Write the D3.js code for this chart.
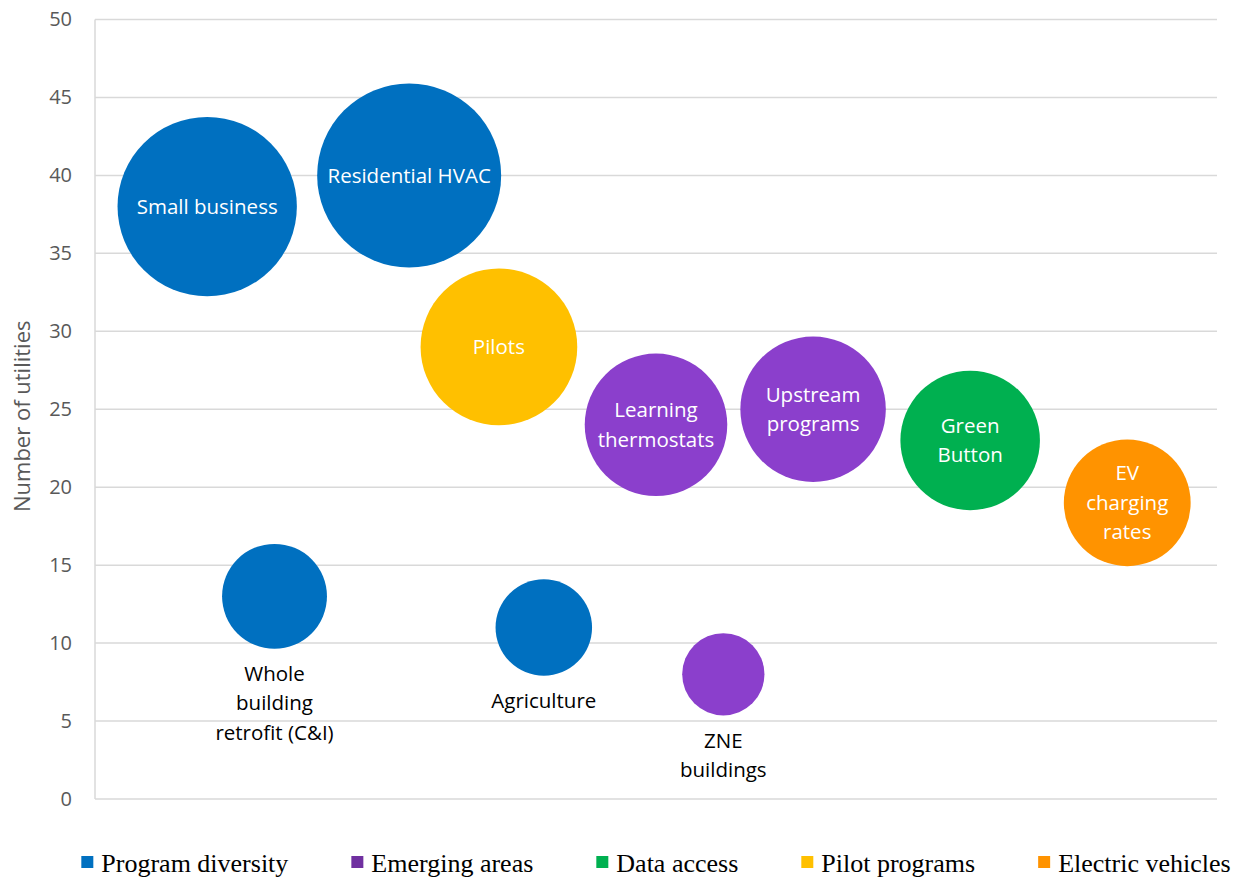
<!DOCTYPE html>
<html>
<head>
<meta charset="utf-8">
<script src="https://cdn.jsdelivr.net/npm/d3@7"></script>
<style>
  html, body { margin: 0; padding: 0; background: #fff; }
  svg { display: block; }
</style>
</head>
<body>
<svg id="chart" width="1241" height="878"></svg>
<script>
// Program types offered by utilities
const programs = ["Small business", "Whole\nbuilding\nretrofit (C&I)", "Residential HVAC", "Pilots", "Agriculture",
                  "Learning\nthermostats", "ZNE\nbuildings", "Upstream\nprograms", "Green\nButton", "EV\ncharging\nrates"];
const programSeries = ["Program diversity", "Program diversity", "Program diversity", "Pilot programs", "Program diversity",
                       "Emerging areas", "Emerging areas", "Emerging areas", "Data access", "Electric vehicles"];
const xValues = [1.0, 1.6, 2.8, 3.6, 4.0, 5.0, 5.6, 6.4, 7.8, 9.2];
const utilityCounts = [38, 13, 40, 29, 11, 24, 8, 25, 23, 19];
const labelPlacement = ["inside", "below", "inside", "inside", "below", "inside", "below", "inside", "inside", "inside"];

const seriesNames = ["Program diversity", "Emerging areas", "Data access", "Pilot programs", "Electric vehicles"];
const bubbleColors = ["#0070C0", "#8B3FCC", "#00B050", "#FFC000", "#FF9300"];
const legendColors = ["#0070C0", "#7030A0", "#00B050", "#FFC000", "#FF9300"];
const yTicks = [0, 5, 10, 15, 20, 25, 30, 35, 40, 45, 50];

const svg = d3.select("#chart");
const plot = { left: 95, right: 1217, top: 19.5, bottom: 799 };

const x = d3.scaleLinear().domain([0, 10]).range([plot.left, plot.right]);
const y = d3.scaleLinear().domain([0, 50]).range([plot.bottom, plot.top]);
const r = d3.scaleSqrt().domain([0, 40]).range([0, 92]);
const bubbleColor = d3.scaleOrdinal().domain(seriesNames).range(bubbleColors);

const textFont = "'Open Sans', Lato, sans-serif";

// Horizontal gridlines
svg.append("g")
  .selectAll("line")
  .data(yTicks.filter(t => t > 0))
  .join("line")
  .attr("x1", plot.left).attr("x2", plot.right)
  .attr("y1", d => y(d)).attr("y2", d => y(d))
  .attr("stroke", "#d9d9d9").attr("stroke-width", 1.5);

// Y axis with tick labels, no tick marks
const yAxis = svg.append("g")
  .attr("transform", `translate(${plot.left},0)`)
  .call(d3.axisLeft(y).tickValues(yTicks).tickSize(0).tickPadding(23));
yAxis.select(".domain").remove();
yAxis.selectAll("text")
  .attr("fill", "#595959")
  .style("font-family", textFont)
  .style("font-size", "20px");

// Axis lines (left and bottom)
svg.append("line")
  .attr("x1", plot.left).attr("x2", plot.left)
  .attr("y1", plot.top).attr("y2", plot.bottom)
  .attr("stroke", "#d9d9d9").attr("stroke-width", 1.5);
svg.append("line")
  .attr("x1", plot.left).attr("x2", plot.right)
  .attr("y1", plot.bottom).attr("y2", plot.bottom)
  .attr("stroke", "#d9d9d9").attr("stroke-width", 1.5);

// Y axis title
svg.append("text")
  .attr("transform", `translate(30,${(plot.top + plot.bottom) / 2 + 7}) rotate(-90)`)
  .attr("text-anchor", "middle")
  .attr("fill", "#595959")
  .style("font-family", textFont)
  .style("font-size", "22px")
  .text("Number of utilities");

// Bubbles
const points = programs.map((name, i) => ({
  name, series: programSeries[i], x: xValues[i], y: utilityCounts[i], size: utilityCounts[i], placement: labelPlacement[i]
}));

svg.append("g")
  .selectAll("circle")
  .data(points)
  .join("circle")
  .attr("cx", d => x(d.x))
  .attr("cy", d => y(d.y))
  .attr("r", d => r(d.size))
  .attr("fill", d => bubbleColor(d.series));

// Bubble labels
const lineHeight = 29.5;
const labels = svg.append("g")
  .selectAll("text")
  .data(points)
  .join("text")
  .attr("text-anchor", "middle")
  .attr("fill", d => d.placement === "inside" ? "#ffffff" : "#000000")
  .style("font-family", textFont)
  .style("font-size", "20.5px");

labels.each(function(d) {
  const lines = d.name.split("\n");
  const cx = x(d.x);
  let firstCenter;
  if (d.placement === "inside") {
    firstCenter = y(d.y) - (lines.length - 1) * lineHeight / 2;
  } else {
    firstCenter = y(d.y) + r(d.size) + 25;
  }
  d3.select(this).selectAll("tspan")
    .data(lines)
    .join("tspan")
    .attr("x", cx)
    .attr("y", (t, j) => firstCenter + j * lineHeight)
    .attr("dy", "0.35em")
    .text(t => t);
});

// Legend along the bottom, centred under the plot
const legend = svg.append("g");
const legendItems = legend.selectAll("g")
  .data(seriesNames)
  .join("g");
legendItems.append("rect")
  .attr("width", 12).attr("height", 12)
  .attr("y", 856)
  .attr("fill", (d, i) => legendColors[i]);
legendItems.append("text")
  .attr("x", 20)
  .attr("y", 872)
  .attr("fill", "#000")
  .style("font-family", "'Liberation Serif', 'DejaVu Serif', serif")
  .style("font-size", "26px")
  .text(d => d);

const gap = 63;
let cursor = 0;
const offsets = [];
legendItems.each(function() {
  offsets.push(cursor);
  const w = d3.select(this).select("text").node().getComputedTextLength() + 20;
  cursor += w + gap;
});
const totalWidth = cursor - gap;
const legendStart = (plot.left + plot.right) / 2 - totalWidth / 2;
legendItems.attr("transform", (d, i) => `translate(${legendStart + offsets[i]},0)`);
</script>
</body>
</html>
